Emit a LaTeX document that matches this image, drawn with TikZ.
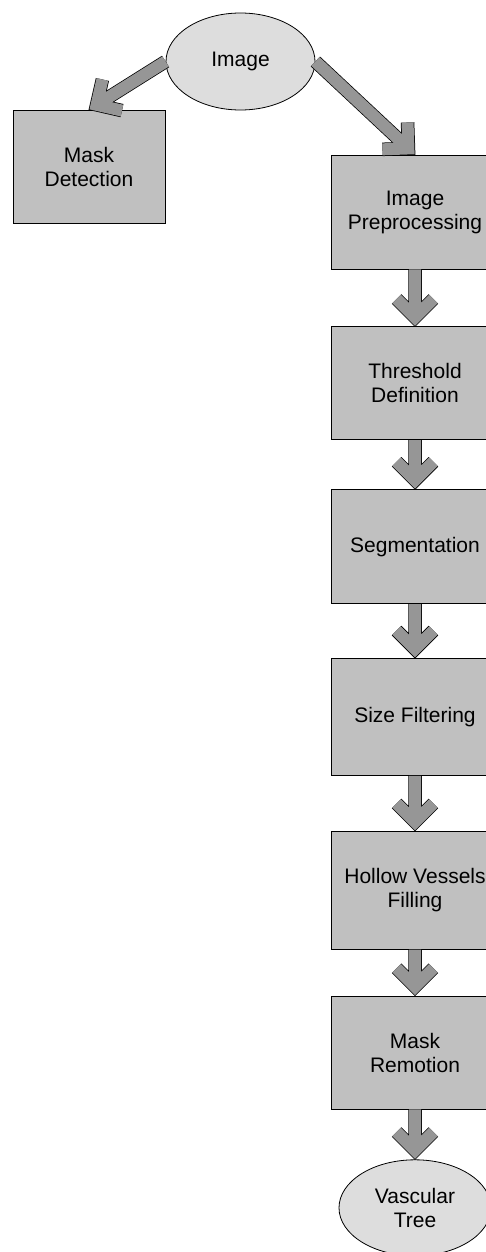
\documentclass[tikz,border=0pt]{standalone}
\usepackage{fontspec}
\setmainfont{Liberation Sans}
\usetikzlibrary{calc,positioning,shapes.geometric}

\definecolor{boxgray}{RGB}{192,192,192}
\definecolor{ovalgray}{RGB}{221,221,221}
\definecolor{arrowgray}{RGB}{150,150,150}

\begin{document}
\begin{tikzpicture}[x=1pt,y=1pt,
  block/.style={
    draw,
    rectangle,
    fill=boxgray,
    line width=.8pt,
    minimum width=168pt,
    minimum height=114pt,
    inner sep=0pt,
    align=center,
    font=\fontsize{21}{24}\selectfont},
  oval/.style={
    draw,
    ellipse,
    fill=ovalgray,
    line width=.8pt,
    minimum width=150pt,
    minimum height=97pt,
    inner sep=0pt,
    align=center,
    font=\fontsize{21}{24}\selectfont},
  fat/.style={
    draw=arrowgray, line width=12pt, line join=miter,
    preaction={draw=black, line width=13.5pt},
    to path={let \p1=($(\tikztotarget)!9pt!(\tikztostart)$) in
      (\tikztostart) -- (\p1)
      ($(\p1)!26pt!45:(\tikztostart)$) -- (\p1) -- ($(\p1)!26pt!-45:(\tikztostart)$)}},
  ]

  \clip (0,0) rectangle (486,-1252);

  \node (Image) [oval, minimum width=149pt] at (240.5,-61.5) {Image};

  \node (MaskDet) [block, minimum width=152pt, minimum height=113pt] at (89,-166.5) {Mask\\Detection};

  \node (Prep) [block] at (415,-212) {Image\\Preprocessing};
  \node (Thresh) [block, minimum height=113pt, below=57pt of Prep] {Threshold\\Definition};
  \node (Seg) [block, below=49pt of Thresh] {Segmentation};
  \node (SizeFilt) [block, minimum height=117pt, below=54pt of Seg] {Size Filtering};
  \node (Hollow) [block, minimum height=118pt, below=55pt of SizeFilt] {Hollow Vessels\\Filling};
  \node (Remotion) [block, minimum height=113pt, below=46pt of Hollow] {Mask\\Remotion};

  \node (Vascular) [oval, minimum width=152pt, minimum height=96pt, below=50pt of Remotion] {Vascular\\Tree};

  \draw[fat] (Image.west) to (MaskDet.north);
  \draw[fat] (Image.east) to (Prep.north);

  \draw[fat] (Prep.south) to (Thresh.north);
  \draw[fat] (Thresh.south) to (Seg.north);
  \draw[fat] (Seg.south) to (SizeFilt.north);
  \draw[fat] (SizeFilt.south) to (Hollow.north);
  \draw[fat] (Hollow.south) to (Remotion.north);
  \draw[fat] (Remotion.south) to (Vascular.north);

\end{tikzpicture}
\end{document}
